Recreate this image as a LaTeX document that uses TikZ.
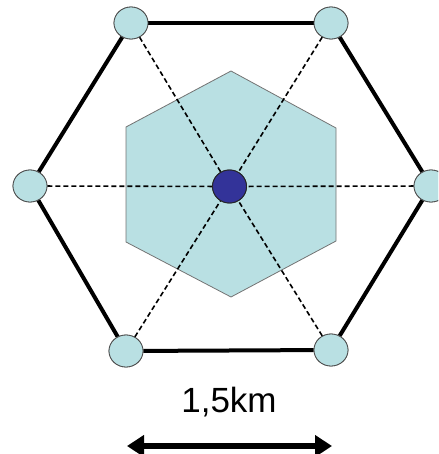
\documentclass[tikz,border=0pt]{standalone}
\usepackage{fontspec}
\setmainfont{Liberation Sans}
\usetikzlibrary{arrows.meta,shapes.geometric}
\definecolor{cellblue}{HTML}{B9E0E3}
\definecolor{dotblue}{HTML}{333399}
\begin{document}
\begin{tikzpicture}[x=1pt,y=-1pt,
  site/.style={ellipse,draw=black!70,line width=0.8pt,fill=cellblue,minimum width=34pt,minimum height=32pt,inner sep=0pt},
  hub/.style={ellipse,draw=black!85,line width=0.9pt,fill=dotblue,minimum width=34pt,minimum height=33pt,inner sep=0pt},
  link/.style={line width=4pt,black},
  ray/.style={line width=1.6pt,black,dash pattern=on 5pt off 3pt},
  cell/.style={fill=cellblue,draw=black!55,line width=0.8pt}]
\useasboundingbox (0,0) rectangle (438,454);
\path[clip] (0,0) rectangle (438,454);
% inner hexagon
\draw[cell] (231,71) -- (336,128) -- (336,241) -- (231,297) -- (126,242) -- (126,127) -- cycle;
% nodes
\node[site] (tl) at (131,23) {};
\node[site] (tr) at (331,23) {};
\node[site] (l) at (30,186) {};
\node[site] (r) at (431,186) {};
\node[site] (bl) at (126,351) {};
\node[site] (br) at (331,350) {};
\node[hub] (c) at (229.5,186.5) {};
% outer hexagon
\draw[link] (tl) -- (tr);
\draw[link] (tr) -- (r);
\draw[link] (r) -- (br);
\draw[link] (br) -- (bl);
\draw[link] (bl) -- (l);
\draw[link] (l) -- (tl);
% rays
\foreach \n in {tl,tr,l,r,bl,br} \draw[ray] (\n) -- (c);
% redraw nodes on top
\node[site] at (tl) {};
\node[site] at (tr) {};
\node[site] at (l) {};
\node[site] at (r) {};
\node[site] at (bl) {};
\node[site] at (br) {};
\node[hub] at (c) {};
% scale
\node[font=\fontsize{35}{40}\selectfont,anchor=base,inner sep=0pt] (lbl) at (229,412) {1,5km};
\coordinate (al) at (127,446);
\coordinate (ar) at (332,446);
\draw[line width=5.5pt,{Triangle[length=17pt,width=21pt]}-{Triangle[length=17pt,width=21pt]}] (al) -- (ar);
\end{tikzpicture}
\end{document}
